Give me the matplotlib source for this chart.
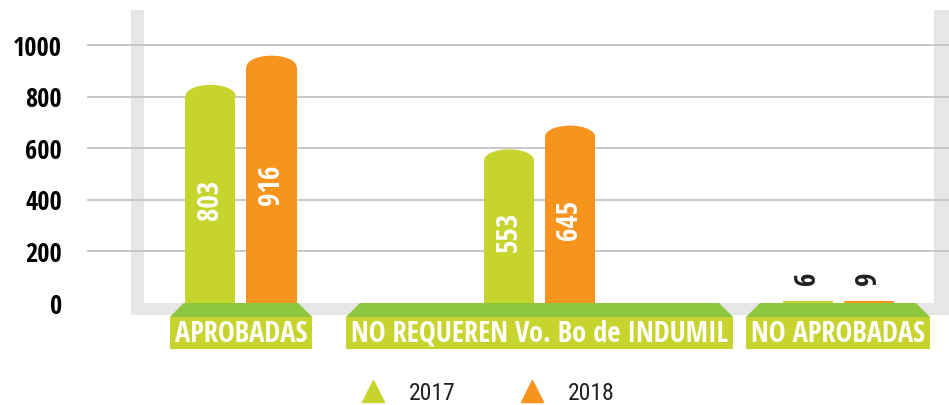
import matplotlib
matplotlib.use('Agg')
import matplotlib.pyplot as plt
from matplotlib import font_manager
from matplotlib.patches import Ellipse, Polygon, Rectangle
from matplotlib.lines import Line2D
import numpy as np

# ---------------- data ----------------
categories = ['APROBADAS', 'NO REQUEREN Vo. Bo de INDUMIL', 'NO APROBADAS']
series_names = ['2017', '2018']
values_2017 = [803, 553, 6]
values_2018 = [916, 645, 9]
y_ticks = [0, 200, 400, 600, 800, 1000]
y_tick_labels = ['0', '200', '400', '600', '800', '1000']

# ---------------- style ----------------
GREEN = '#c8d42e'
ORANGE = '#f7941d'
LIGHT_GREEN = '#8dc63f'
WALL = '#e6e6e6'
GRID = '#c4c4c4'
DARK = '#231f20'

# pick the narrowest installed Latin sans fonts (bold and regular)
ALLOWED = ('DejaVu Sans', 'Liberation Sans', 'Noto Sans', 'Roboto', 'Open Sans', 'Lato', 'Inter')
NEEDED = 'ABCDEIMNOPQRSUVLbdeo.0123456789 '


def _weight(w):
    if isinstance(w, str):
        return font_manager.weight_dict.get(w, 400)
    return int(w)


def _narrowest(bold):
    best, best_w = None, None
    for f in font_manager.fontManager.ttflist:
        if not f.name.startswith(ALLOWED) or 'CJK' in f.name or 'Mono' in f.name:
            continue
        if f.style != 'normal':
            continue
        wt = _weight(f.weight)
        if bold and not (600 <= wt <= 800):
            continue
        if not bold and not (400 <= wt <= 500):
            continue
        try:
            ft = font_manager.get_font(f.fname)
            if any(ft.get_char_index(ord(c)) == 0 for c in NEEDED if c != ' '):
                continue
            ft.set_size(20, 72)
            ft.set_text('APROBADAS 2017 1000')
            w, h = ft.get_width_height()
        except Exception:
            continue
        if best_w is None or w < best_w:
            best, best_w = f.fname, w
    return best


BOLD_FILE = _narrowest(True)
REG_FILE = _narrowest(False)


def fprop(size, bold=True):
    path = BOLD_FILE if bold else REG_FILE
    if path:
        return font_manager.FontProperties(fname=path, size=size)
    return font_manager.FontProperties(family='DejaVu Sans', stretch='condensed',
                                       weight='bold' if bold else 'normal', size=size)


W, H = 949, 405
fig = plt.figure(figsize=(W / 100, H / 100), dpi=100)
fig.patch.set_facecolor('white')
AX_LEFT = 87
ax = fig.add_axes([AX_LEFT / W, 0, 1 - AX_LEFT / W, 1])
ax.set_facecolor('white')

# layout mapping (pixel <-> data) for decoration placement
Y0_PX = 303
PX_PER_UNIT = (303 - 45) / 1000
X0_PX = 241
PX_PER_CAT = 298.5


def dy(px):
    return (Y0_PX - px) / PX_PER_UNIT


def dx(px):
    return (px - X0_PX) / PX_PER_CAT


ax.set_xlim(dx(AX_LEFT), dx(W))
ax.set_ylim(dy(H), dy(0))
for s in ax.spines.values():
    s.set_visible(False)
ax.set_xticks([])

# walls and floor
ax.add_patch(Rectangle((dx(131), dy(315)), dx(144) - dx(131), dy(10) - dy(315),
                       facecolor=WALL, lw=0, zorder=0))
ax.add_patch(Rectangle((dx(934), dy(315)), dx(949) - dx(934), dy(10) - dy(315),
                       facecolor=WALL, lw=0, zorder=0))
ax.add_patch(Rectangle((dx(131), dy(315)), dx(949) - dx(131), dy(303) - dy(315),
                       facecolor=WALL, lw=0, zorder=0))

# gridlines
for t in y_ticks[1:]:
    ax.axhline(t, color=GRID, lw=1.3, zorder=1)

ax.set_yticks(y_ticks)
ax.set_yticklabels(y_tick_labels, fontproperties=fprop(19), color='black')
ax.tick_params(axis='y', length=0, pad=18)

# bars
x = np.arange(len(categories))
bw = 50 / PX_PER_CAT
off = 30.5 / PX_PER_CAT
cap_h = 22 / PX_PER_UNIT
for vals, color, sign in [(values_2017, GREEN, -1), (values_2018, ORANGE, 1)]:
    xs = x + sign * off
    ax.bar(xs, vals, width=bw, color=color, lw=0, zorder=2)
    for xi, v in zip(xs, vals):
        if v >= 100:
            ax.add_patch(Ellipse((xi, v), bw, cap_h, facecolor=color, lw=0, zorder=2))
            ax.text(xi, v / 2, str(v), rotation=90, ha='center', va='center',
                    color='white', fontproperties=fprop(21), zorder=4)
        else:
            ax.annotate(str(v), (xi, v), xytext=(0, 11.5), textcoords='offset points',
                        rotation=90, ha='center', va='bottom', color=DARK,
                        fontproperties=fprop(21), zorder=4)

# category label boxes
fig.canvas.draw()
renderer = fig.canvas.get_renderer()
for xi, cat in zip(x, categories):
    t = ax.text(xi, dy(334.5), cat, ha='center', va='center', color='white',
                fontproperties=fprop(20.5), zorder=5)
    ext = t.get_window_extent(renderer)
    left = ext.x0 - 5
    right = ext.x1 + 5
    ax.add_patch(Rectangle((dx(left), dy(349)), dx(right) - dx(left), dy(317) - dy(349),
                           facecolor=GREEN, lw=0, zorder=3))
    ax.add_patch(Polygon([(dx(left), dy(317)), (dx(left + 14), dy(303)),
                          (dx(right - 14), dy(303)), (dx(right), dy(317))],
                         closed=True, facecolor=LIGHT_GREEN, lw=0, zorder=3))

# legend
handles = [Line2D([], [], marker='^', color=c, ls='none', markersize=16)
           for c in (GREEN, ORANGE)]
fig.legend(handles, series_names, ncol=2, loc='center',
           bbox_to_anchor=(488 / W, 1 - 393 / H), frameon=False,
           handlelength=1.0, handletextpad=1.03, columnspacing=2.75,
           prop=fprop(17, bold=False), labelcolor=DARK)

fig.savefig('out.png', dpi=100, facecolor='white')
